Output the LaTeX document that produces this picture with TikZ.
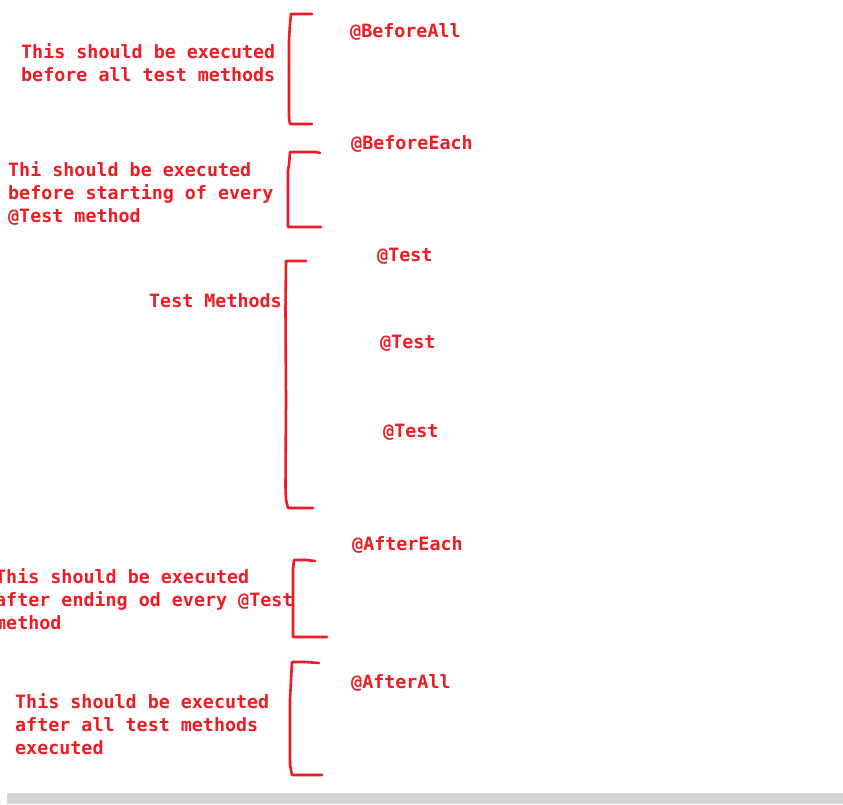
\documentclass[tikz,border=0pt]{standalone}
\usepackage{fontspec}
\setmonofont{DejaVu Sans Mono}
\definecolor{pen}{RGB}{237,28,36}
\definecolor{strip}{RGB}{212,212,212}
\begin{document}
\begin{tikzpicture}[x=1pt,y=-1pt,
  lbl/.style={text=pen, font=\ttfamily\bfseries\fontsize{18.35}{23}\selectfont, inner sep=0pt, anchor=base west},
  brk/.style={draw=pen, line width=2.6pt, line join=round, line cap=round}]
\useasboundingbox (0,0) rectangle (843,804);
\clip (0,0) rectangle (843,804);
\fill[white] (0,0) rectangle (843,804);
% gray strip at the bottom
\fill[strip] (7,793) rectangle (843,804);

% right-hand annotations
\node[lbl] (ba) at (350,37) {@BeforeAll};
\node[lbl] (be) at (351,149) {@BeforeEach};
\node[lbl] (t1) at (377,261) {@Test};
\node[lbl] (t2) at (380,348) {@Test};
\node[lbl] (t3) at (383,437) {@Test};
\node[lbl] (ae) at (352,550) {@AfterEach};
\node[lbl] (aa) at (351,688) {@AfterAll};

% left-hand explanations
\node[lbl] (d1a) at (21,58) {This should be executed};
\node[lbl] (d1b) at (21,81) {before all test methods};
\node[lbl] (d2a) at (8,176) {Thi should be executed};
\node[lbl] (d2b) at (8,199) {before starting of every};
\node[lbl] (d2c) at (8,222) {@Test method};
\node[lbl] (d3) at (149,307) {Test Methods};
\node[lbl] (d4a) at (-5,583) {This should be executed};
\node[lbl] (d4b) at (-5,606) {after ending od every @Test};
\node[lbl] (d4c) at (-5,629) {method};
\node[lbl] (d5a) at (15,708) {This should be executed};
\node[lbl] (d5b) at (15,731) {after all test methods};
\node[lbl] (d5c) at (15,754) {executed};

% brackets
\draw[brk] (312,14) -- (291,14) -- (290,24) -- (289,40) -- (289,118) -- (290,124) -- (312,124);
\draw[brk] (320,153) -- (316,152) -- (290,152) -- (289,165) -- (288,170) -- (288,227) -- (321,227);
\draw[brk] (306,261) -- (286,261) -- (285.5,310) -- (286,400) -- (285.5,487) -- (286,500) -- (288,508) -- (313,508);
\draw[brk] (315,561) -- (306,560) -- (294,560) -- (293,570) -- (293,637) -- (327,637);
\draw[brk] (319,663) -- (305,662) -- (292,662) -- (291,680) -- (290,700) -- (290,765) -- (292,775) -- (322,775);
\end{tikzpicture}
\end{document}
